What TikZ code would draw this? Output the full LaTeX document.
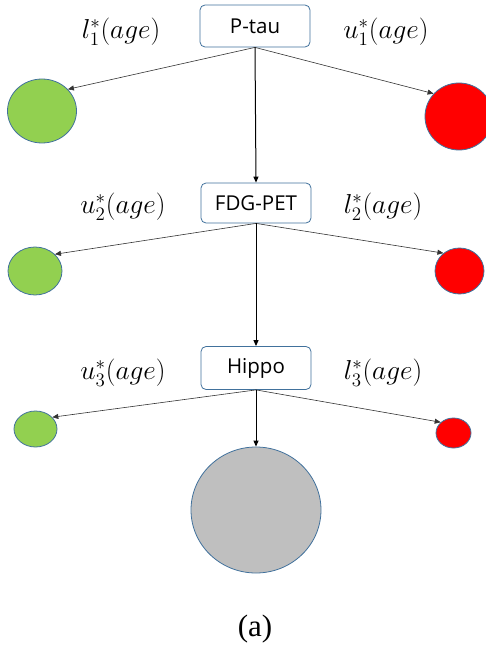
\documentclass[tikz,border=0pt]{standalone}
\usepackage{fontspec}
\setmainfont{Liberation Serif}
\newfontfamily\boxfont{Open Sans}
\usetikzlibrary{shapes.geometric,arrows.meta}
\definecolor{edgeblue}{HTML}{41719C}
\definecolor{leafgreen}{HTML}{92D050}
\definecolor{leafred}{HTML}{FF0000}
\definecolor{leafgray}{HTML}{BFBFBF}
\newcommand{\boundlabel}[1]{\scalebox{1.32}{$#1$}}
\tikzset{
  testbox/.style={draw=edgeblue, line width=0.8pt, fill=white, rounded corners=5pt,
    minimum width=110pt, inner sep=0pt, font=\boxfont\fontsize{20.5}{24}\selectfont},
  leaf/.style={ellipse, draw=edgeblue, line width=0.8pt, inner sep=0pt},
  branch/.style={draw=black!80, line width=0.6pt, -{Triangle[length=6pt,width=5pt]}},
  trunk/.style={draw=black, line width=1pt, -{Triangle[length=6pt,width=5pt]}},
  bound/.style={font=\fontsize{20}{24}\selectfont}
}
\begin{document}
\begin{tikzpicture}[x=1pt,y=-1pt]
\useasboundingbox (0,0) rectangle (486,647);
% test boxes
\node[testbox, minimum height=42pt] (ptau) at (255,26) {P-tau};
\node[testbox, minimum height=40pt] (fdg) at (256,203) {FDG-PET};
\node[testbox, minimum height=43pt] (hippo) at (256,368) {Hippo};
% outcome leaves
\node[leaf, fill=leafgreen, minimum width=69pt, minimum height=64pt] (g1) at (42,111) {};
\node[leaf, fill=leafred, minimum width=68pt, minimum height=67pt] (r1) at (459,116.5) {};
\node[leaf, fill=leafgreen, minimum width=54pt, minimum height=48pt] (g2) at (35,271) {};
\node[leaf, fill=leafred, minimum width=49pt, minimum height=46pt] (r2) at (459.5,271) {};
\node[leaf, fill=leafgreen, minimum width=43pt, minimum height=36pt] (g3) at (35.5,429) {};
\node[leaf, fill=leafred, minimum width=35pt, minimum height=30pt] (r3) at (453.5,433) {};
\node[leaf, fill=leafgray, minimum width=130pt, minimum height=126pt] (gr) at (256,510) {};
% threshold labels
\node[bound] (la1) at (121,32) {\boundlabel{l_1^*(age)}};
\node[bound] (lb1) at (386,32) {\boundlabel{u_1^*(age)}};
\node[bound] (la2) at (123,207) {\boundlabel{u_2^*(age)}};
\node[bound] (lb2) at (383,207) {\boundlabel{l_2^*(age)}};
\node[bound] (la3) at (123,373) {\boundlabel{u_3^*(age)}};
\node[bound] (lb3) at (383,373) {\boundlabel{l_3^*(age)}};
% caption
\node[font=\fontsize{31}{36}\selectfont] (cap) at (255,629) {(a)};
% connectors
\draw[branch] (ptau.south) -- (g1.40);
\draw[branch] (ptau.south) -- (r1.138);
\draw[trunk] (ptau.south) -- (fdg.north);
\draw[branch] (fdg.south) -- (g2.40);
\draw[branch] (fdg.south) -- (r2.132);
\draw[trunk] (fdg.south) -- (hippo.north);
\draw[branch] (hippo.south) -- (g3.35);
\draw[branch] (hippo.south) -- (r3.140);
\draw[trunk] (hippo.south) -- (gr.north);
\end{tikzpicture}
\end{document}
